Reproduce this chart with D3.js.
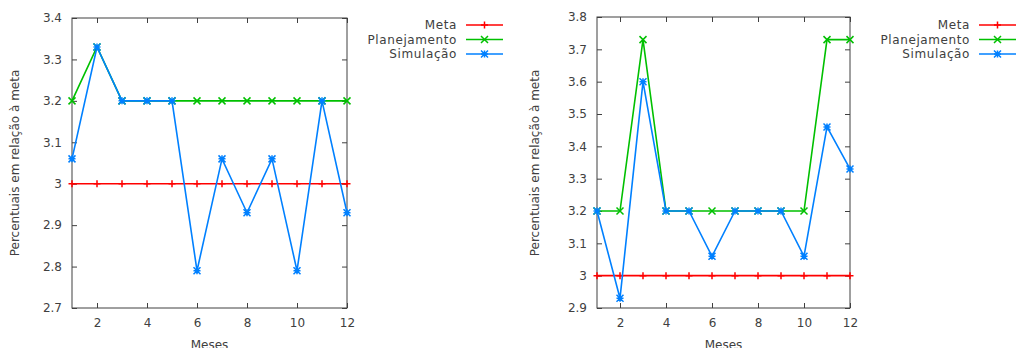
<!DOCTYPE html>
<html>
<head>
<meta charset="utf-8">
<script src="https://cdn.jsdelivr.net/npm/d3@7"></script>
<style>
  body { margin: 0; background: #fff; }
  text { font-family: "DejaVu Sans", sans-serif; fill: #404040; }
</style>
</head>
<body>
<div id="chart"></div>
<script>
// months on the x axis
const meses = [1, 2, 3, 4, 5, 6, 7, 8, 9, 10, 11, 12];
const xTicks = [2, 4, 6, 8, 10, 12];
const seriesNames = ["Meta", "Planejamento", "Simulação"];

// left chart
const metaA = [3, 3, 3, 3, 3, 3, 3, 3, 3, 3, 3, 3];
const planA = [3.2, 3.33, 3.2, 3.2, 3.2, 3.2, 3.2, 3.2, 3.2, 3.2, 3.2, 3.2];
const simA = [3.06, 3.33, 3.2, 3.2, 3.2, 2.79, 3.06, 2.93, 3.06, 2.79, 3.2, 2.93];
const yTicksA = [2.7, 2.8, 2.9, 3, 3.1, 3.2, 3.3, 3.4];

// right chart
const metaB = [3, 3, 3, 3, 3, 3, 3, 3, 3, 3, 3, 3];
const planB = [3.2, 3.2, 3.73, 3.2, 3.2, 3.2, 3.2, 3.2, 3.2, 3.2, 3.73, 3.73];
const simB = [3.2, 2.93, 3.6, 3.2, 3.2, 3.06, 3.2, 3.2, 3.2, 3.06, 3.46, 3.33];
const yTicksB = [2.9, 3, 3.1, 3.2, 3.3, 3.4, 3.5, 3.6, 3.7, 3.8];

const colors = ["#ff0000", "#00c000", "#0080ff"];

const svg = d3.select("#chart")
  .append("svg")
  .attr("width", 1017)
  .attr("height", 348);

// point symbols like gnuplot: plus, cross, star
function marker(g, type, x, y, color) {
  const s = 3.5;
  let d;
  if (type === 0) d = `M${x-s},${y}H${x+s}M${x},${y-s}V${y+s}`;
  else if (type === 1) d = `M${x-s},${y-s}L${x+s},${y+s}M${x-s},${y+s}L${x+s},${y-s}`;
  else d = `M${x-s},${y}H${x+s}M${x},${y-s}V${y+s}M${x-s},${y-s}L${x+s},${y+s}M${x-s},${y+s}L${x+s},${y-s}`;
  g.append("path").attr("d", d).attr("stroke", color).attr("stroke-width", 1.5).attr("fill", "none");
}

function drawPanel(opt) {
  const x = d3.scaleLinear().domain([1, 12]).range([opt.left, opt.right]);
  const y = d3.scaleLinear().domain(opt.yDomain).range([opt.bottom, opt.top]);
  const g = svg.append("g");

  // ticks, mirrored on all sides, pointing inwards
  const axisG = g.append("g");
  axisG.append("g")
    .attr("transform", `translate(0,${opt.bottom})`)
    .call(d3.axisBottom(x).tickValues(xTicks).tickSizeInner(-5).tickSizeOuter(0).tickPadding(10));
  axisG.append("g")
    .attr("transform", `translate(0,${opt.top})`)
    .call(d3.axisTop(x).tickValues(xTicks).tickSizeInner(-5).tickSizeOuter(0).tickFormat(""));
  axisG.append("g")
    .attr("transform", `translate(${opt.left},0)`)
    .call(d3.axisLeft(y).tickValues(opt.yTicks).tickSizeInner(-5).tickSizeOuter(0).tickPadding(10).tickFormat(d3.format("")));
  axisG.append("g")
    .attr("transform", `translate(${opt.right},0)`)
    .call(d3.axisRight(y).tickValues(opt.yTicks).tickSizeInner(-5).tickSizeOuter(0).tickFormat(""));
  axisG.selectAll(".domain").remove();
  axisG.selectAll(".tick line").attr("stroke", "#404040");
  axisG.selectAll("text").style("font-size", "12px").attr("fill", "#404040");

  g.append("rect")
    .attr("x", opt.left).attr("y", opt.top)
    .attr("width", opt.right - opt.left).attr("height", opt.bottom - opt.top)
    .attr("fill", "none").attr("stroke", "#404040").attr("stroke-width", 1);

  const line = d3.line().x((d, i) => x(meses[i])).y(d => y(d));
  opt.series.forEach((vals, k) => {
    g.append("path")
      .datum(vals)
      .attr("d", line)
      .attr("fill", "none")
      .attr("stroke", colors[k])
      .attr("stroke-width", 1.6);
    vals.forEach((v, i) => marker(g, k, x(meses[i]), y(v), colors[k]));
  });

  // axis titles
  g.append("text")
    .attr("x", (opt.left + opt.right) / 2)
    .attr("y", 349)
    .attr("text-anchor", "middle")
    .style("font-size", "12px")
    .text("Meses");
  g.append("text")
    .attr("transform", `translate(${opt.ylabX},163) rotate(-90)`)
    .attr("text-anchor", "middle")
    .attr("dy", "0.35em")
    .style("font-size", "12px")
    .text("Percentuais em relação à meta");

  // legend
  seriesNames.forEach((name, k) => {
    const ly = 25 + k * 14.5;
    g.append("text")
      .attr("x", opt.legX)
      .attr("y", ly)
      .attr("dy", "0.35em")
      .attr("text-anchor", "end")
      .style("font-size", "12px")
      .style("letter-spacing", "0.6px")
      .text(name);
    g.append("line")
      .attr("x1", opt.legX + 9).attr("x2", opt.legX + 46)
      .attr("y1", ly).attr("y2", ly)
      .attr("stroke", colors[k]).attr("stroke-width", 1.6);
    marker(g, k, opt.legX + 27.5, ly, colors[k]);
  });
}

drawPanel({
  left: 72, right: 347, top: 18, bottom: 308,
  yDomain: [2.7, 3.4], yTicks: yTicksA,
  series: [metaA, planA, simA],
  ylabX: 15, legX: 457
});

drawPanel({
  left: 597, right: 850, top: 17, bottom: 308,
  yDomain: [2.9, 3.8], yTicks: yTicksB,
  series: [metaB, planB, simB],
  ylabX: 535, legX: 970
});
</script>
</body>
</html>
